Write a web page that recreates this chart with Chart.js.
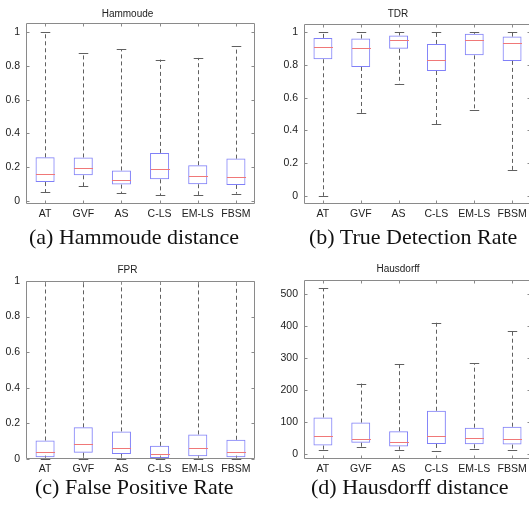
<!DOCTYPE html>
<html>
<head>
<meta charset="utf-8">
<script src="https://cdn.jsdelivr.net/npm/chart.js@4.4.1/dist/chart.umd.min.js"></script>
<style>
  html, body { margin: 0; padding: 0; background: #fff; overflow: hidden; }
  body { width: 529px; height: 505px; position: relative; }
  canvas { position: absolute; }
  .cap {
    position: absolute;
    font-family: "Liberation Serif", "Times New Roman", serif;
    font-size: 22px;
    line-height: 1;
    color: #111;
    white-space: nowrap;
  }
</style>
</head>
<body>
<canvas id="hamChart" width="265" height="225" style="left:0;top:0"></canvas>
<canvas id="tdrChart" width="270" height="225" style="left:265px;top:0"></canvas>
<canvas id="fprChart" width="265" height="225" style="left:0;top:255px"></canvas>
<canvas id="hdChart" width="270" height="225" style="left:265px;top:255px"></canvas>

<div class="cap" style="left:29px;top:226px">(a) Hammoude distance</div>
<div class="cap" style="left:309px;top:226px">(b) True Detection Rate</div>
<div class="cap" style="left:35px;top:476px">(c) False Positive Rate</div>
<div class="cap" style="left:311px;top:476px">(d) Hausdorff distance</div>

<script>
const categories = ["AT", "GVF", "AS", "C-LS", "EM-LS", "FBSM"];

// Hammoude distance
const hamLow  = [0.053, 0.088, 0.045, 0.034, 0.036, 0.043];
const hamQ1   = [0.112, 0.152, 0.097, 0.128, 0.099, 0.095];
const hamMed  = [0.162, 0.198, 0.125, 0.188, 0.149, 0.145];
const hamQ3   = [0.259, 0.258, 0.181, 0.285, 0.212, 0.251];
const hamHigh = [1.0, 0.879, 0.899, 0.838, 0.848, 0.918];

// True detection rate
const tdrLow  = [0.0, 0.508, 0.682, 0.439, 0.524, 0.158];
const tdrQ1   = [0.836, 0.789, 0.900, 0.764, 0.860, 0.826];
const tdrMed  = [0.914, 0.908, 0.956, 0.832, 0.952, 0.938];
const tdrQ3   = [0.967, 0.963, 0.982, 0.930, 0.992, 0.975];
const tdrHigh = [1, 1, 1, 1, 1, 1];

// False positive rate
const fprLow  = [0, 0, 0, 0, 0, 0];
const fprQ1   = [0.010, 0.035, 0.028, 0.005, 0.015, 0.010];
const fprMed  = [0.040, 0.087, 0.064, 0.027, 0.061, 0.037];
const fprQ3   = [0.104, 0.178, 0.155, 0.074, 0.138, 0.108];
const fprHigh = [1, 1, 1, 1, 1, 1];

// Hausdorff distance
const hdLow  = [11, 20, 13, 8, 14, 11];
const hdQ1   = [26, 35, 23, 31, 30, 29];
const hdMed  = [55, 48, 37, 57, 51, 47];
const hdQ3   = [114, 98, 71, 135, 82, 85];
const hdHigh = [518, 220, 280, 411, 283, 384];

const rateTicks = [0, 0.2, 0.4, 0.6, 0.8, 1];
const hdTicks = [0, 100, 200, 300, 400, 500];

const FONT = "'Liberation Sans', Arial, sans-serif";
const AXIS_GRAY = "#8a8a8a";
const BOX_BLUE = "#8080f8";
const MED_RED = "#f07878";
const WHISK = "#606060";

// whiskers, caps and median drawn through the chart's scales
const boxWhisk = {
  id: "boxWhisk",
  afterDatasetsDraw(chart, args, o) {
    const { ctx, scales: { x, y } } = chart;
    const bars = chart.getDatasetMeta(0).data;
    ctx.save();
    ctx.lineWidth = 1;
    o.med.forEach((m, i) => {
      const cx = Math.round(x.getPixelForValue(i)) + 0.5;
      const half = bars[i].width / 2;
      const capHalf = half / 2;
      const yLo = y.getPixelForValue(o.low[i]);
      const yQ1 = y.getPixelForValue(o.q1[i]);
      const yQ3 = y.getPixelForValue(o.q3[i]);
      const yHi = y.getPixelForValue(o.high[i]);

      ctx.strokeStyle = WHISK;
      ctx.setLineDash([4, 3]);
      ctx.beginPath();
      ctx.moveTo(cx, yQ3); ctx.lineTo(cx, yHi);
      ctx.moveTo(cx, yQ1); ctx.lineTo(cx, yLo);
      ctx.stroke();

      ctx.setLineDash([]);
      ctx.beginPath();
      ctx.moveTo(cx - capHalf, Math.round(yHi) + 0.5); ctx.lineTo(cx + capHalf, Math.round(yHi) + 0.5);
      ctx.moveTo(cx - capHalf, Math.round(yLo) + 0.5); ctx.lineTo(cx + capHalf, Math.round(yLo) + 0.5);
      ctx.stroke();

      const yM = Math.round(y.getPixelForValue(m)) + 0.5;
      ctx.strokeStyle = MED_RED;
      ctx.beginPath();
      ctx.moveTo(cx - half, yM); ctx.lineTo(cx + half, yM);
      ctx.stroke();
    });
    ctx.restore();
  }
};

// MATLAB style box with inward ticks on all four sides
const frame = {
  id: "frame",
  afterDraw(chart) {
    const { ctx, chartArea: a, scales: { x, y } } = chart;
    const L = a.left + 0.5, R = a.right - 0.5, T = a.top + 0.5, B = a.bottom - 0.5;
    ctx.save();
    ctx.strokeStyle = AXIS_GRAY;
    ctx.lineWidth = 1;
    ctx.beginPath();
    ctx.rect(L, T, R - L, B - T);
    y.ticks.forEach((t, i) => {
      const py = Math.round(y.getPixelForTick(i)) + 0.5;
      ctx.moveTo(L, py); ctx.lineTo(L + 3, py);
      ctx.moveTo(R, py); ctx.lineTo(R - 3, py);
    });
    x.ticks.forEach((t, i) => {
      const px = Math.round(x.getPixelForTick(i)) + 0.5;
      ctx.moveTo(px, B); ctx.lineTo(px, B - 3);
      ctx.moveTo(px, T); ctx.lineTo(px, T + 3);
    });
    ctx.stroke();
    ctx.restore();
  }
};

function boxChart(id, cfg) {
  return new Chart(document.getElementById(id), {
    type: "bar",
    data: {
      labels: categories,
      datasets: [{
        data: cfg.q1.map((v, i) => [v, cfg.q3[i]]),
        backgroundColor: "rgba(255,255,255,0)",
        borderColor: BOX_BLUE,
        borderWidth: 1,
        borderSkipped: false,
        barPercentage: 0.5,
        categoryPercentage: 1.0
      }]
    },
    options: {
      responsive: false,
      animation: false,
      devicePixelRatio: 1,
      layout: { padding: { left: 0, right: cfg.padRight, top: 0, bottom: 0 } },
      plugins: {
        legend: { display: false },
        tooltip: { enabled: false },
        title: {
          display: true,
          text: cfg.title,
          color: "#222",
          font: { family: FONT, size: 10, weight: "normal" },
          padding: { top: cfg.titleTop, bottom: cfg.titleBottom }
        },
        boxWhisk: { low: cfg.low, q1: cfg.q1, med: cfg.med, q3: cfg.q3, high: cfg.high }
      },
      scales: {
        x: {
          grid: { display: false, drawTicks: false },
          border: { display: false },
          ticks: { padding: 4, color: "#222", autoSkip: false, maxRotation: 0,
                   font: { family: FONT, size: 10.5 } },
          afterFit: s => { s.height = 21; }
        },
        y: {
          min: cfg.min,
          max: cfg.max,
          grid: { display: false, drawTicks: false },
          border: { display: false },
          ticks: { padding: 6, color: "#222", font: { family: FONT, size: 10.5 },
                   callback: v => String(v) },
          afterBuildTicks: s => { s.ticks = cfg.ticks.map(v => ({ value: v })); },
          afterFit: s => { s.width = cfg.yWidth; }
        }
      }
    },
    plugins: [boxWhisk, frame]
  });
}

window.addEventListener("load", () => {
  boxChart("hamChart", {
    title: "Hammoude", low: hamLow, q1: hamQ1, med: hamMed, q3: hamQ3, high: hamHigh,
    min: -0.018, max: 1.055, ticks: rateTicks,
    yWidth: 26, padRight: 10, titleTop: 8, titleBottom: 3
  });
  boxChart("tdrChart", {
    title: "TDR", low: tdrLow, q1: tdrQ1, med: tdrMed, q3: tdrQ3, high: tdrHigh,
    min: -0.05, max: 1.052, ticks: rateTicks,
    yWidth: 39, padRight: 4, titleTop: 8, titleBottom: 4
  });
  boxChart("fprChart", {
    title: "FPR", low: fprLow, q1: fprQ1, med: fprMed, q3: fprQ3, high: fprHigh,
    min: 0, max: 1, ticks: rateTicks,
    yWidth: 26, padRight: 10, titleTop: 9, titleBottom: 5
  });
  boxChart("hdChart", {
    title: "Hausdorff", low: hdLow, q1: hdQ1, med: hdMed, q3: hdQ3, high: hdHigh,
    min: -16, max: 544, ticks: hdTicks,
    yWidth: 39, padRight: 4, titleTop: 8, titleBottom: 5
  });
});
</script>
</body>
</html>
